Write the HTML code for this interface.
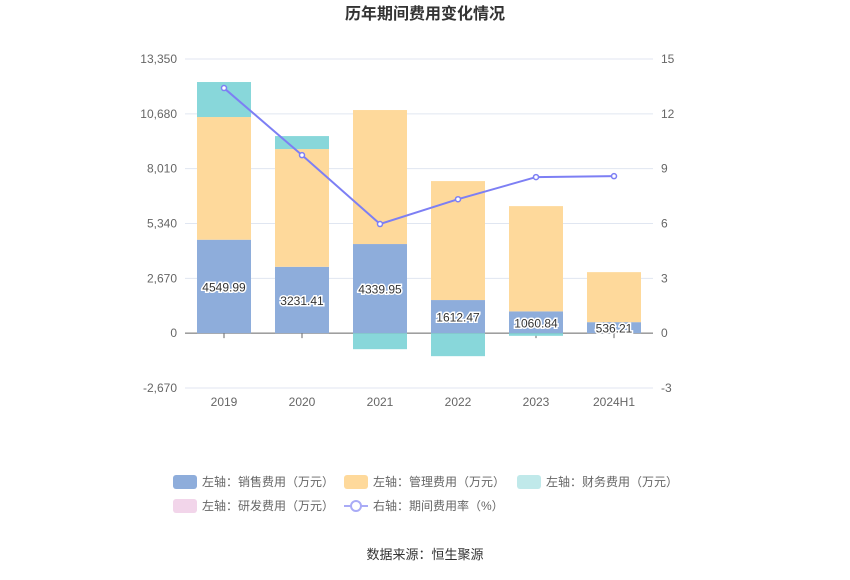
<!DOCTYPE html>
<html><head><meta charset="utf-8"><style>
body{margin:0;background:#fff;font-family:"Liberation Sans","Noto Sans CJK SC",sans-serif}
svg text{font-family:"Liberation Sans","Noto Sans CJK SC",sans-serif}
</style></head><body>
<svg id="c" width="850" height="575">
<text x="425" y="19" text-anchor="middle" font-size="16" font-weight="bold" fill="#333">历年期间费用变化情况</text>
<g id="grid"></g><g id="bars"></g><g id="line"></g><g id="labels"></g>
<g id="legend" font-size="12" fill="#666"></g>
<text x="425" y="559" text-anchor="middle" font-size="13" fill="#333">数据来源：恒生聚源</text>
</svg>
<script>
const categories=["2019","2020","2021","2022","2023","2024H1"];
const sales=[4549.99,3231.41,4339.95,1612.47,1060.84,536.21];
const mgmt=[5974,5733,6525,5793,5126,2436];
const finance=[1705,633,-780,-1120,-130,0];
const rnd=[0,0,0,0,0,0];
const rate=[13.41,9.74,5.97,7.33,8.54,8.59];
const leftTicks=[-2670,0,2670,5340,8010,10680,13350];
const rightTicks=[-3,0,3,6,9,12,15];
const NS="http://www.w3.org/2000/svg";
const yT=59,yB=388,x0=185,x1=653;
const yL=v=>yT+(13350-v)/(13350+2670)*(yB-yT);
const yR=v=>yT+(15-v)/18*(yB-yT);
const bw=(x1-x0)/categories.length;
const xC=i=>x0+bw*(i+0.5);
function mk(t,a,p){const e=document.createElementNS(NS,t);for(const k in a)e.setAttribute(k,a[k]);p.appendChild(e);return e;}
const g=document.getElementById('grid');
leftTicks.forEach((v,i)=>{
 const l=mk('line',{x1:x0,x2:x1,y1:yL(v),y2:yL(v),stroke:v===0?'#666':'#e0e6f1'},g);
 
 
 const t=mk('text',{x:177,y:yL(v)+4,'text-anchor':'end','font-size':12,fill:'#666'},g);t.textContent=v.toLocaleString('en-US');
 
 
 const r=mk('text',{x:661,y:yR(rightTicks[i])+4,'font-size':12,fill:'#666'},g);r.textContent=rightTicks[i];
 
 
});
categories.forEach((c,i)=>{
 mk('line',{x1:xC(i),x2:xC(i),y1:yL(0),y2:yL(0)+5,stroke:'#666'},g);
 const t=mk('text',{x:xC(i),y:406,'text-anchor':'middle','font-size':12,fill:'#666'},g);t.textContent=c;
 
 
});
const b=document.getElementById('bars'),lb=document.getElementById('labels');
const W=54;
categories.forEach((c,i)=>{
 let pos=0,neg=0;
 [[sales,'#8eaddb'],[mgmt,'#fed99b'],[finance,'#88d7da'],[rnd,'#f2d5ea']].forEach(([arr,col],k)=>{
  const v=arr[i];if(!v)return;
  let a,bb;
  if(v>0){a=pos;bb=pos+v;pos=bb;}else{a=neg;bb=neg+v;neg=bb;}
  const yy=Math.min(yL(a),yL(bb)),h=Math.abs(yL(a)-yL(bb));
  const r=mk('rect',{x:xC(i)-W/2,y:yy,width:W,height:h,fill:col},b);
  
  
 });
 const t=mk('text',{x:xC(i),y:(yL(0)+yL(sales[i]))/2+5,'text-anchor':'middle','font-size':12,fill:'#333',stroke:'#fff','stroke-width':3,'paint-order':'stroke'},lb);
 t.textContent=sales[i].toFixed(2);
 
 
});
const L=document.getElementById('line');
mk('polyline',{points:rate.map((v,i)=>xC(i)+','+yR(v)).join(' '),fill:'none',stroke:'#7d7ff4','stroke-width':2},L);
rate.forEach((v,i)=>{
 const p=mk('circle',{cx:xC(i),cy:yR(v),r:2.5,fill:'#fff',stroke:'#7d7ff4','stroke-width':1.5},L);
 
 
});
const lg=document.getElementById('legend');
const items=[[173,482,'#8eaddb','左轴：销售费用（万元）'],[344,482,'#fed99b','左轴：管理费用（万元）'],[517,482,'#c0e9ea','左轴：财务费用（万元）'],[173,506,'#f2d5ea','左轴：研发费用（万元）'],[344,506,null,'右轴：期间费用率（%）']];
items.forEach(([x,y,col,txt])=>{
 const gg=mk('g',{},lg);
 
 
 if(col)mk('rect',{x:x,y:y-7,width:24,height:14,rx:3,fill:col},gg);
 else{mk('line',{x1:x,x2:x+24,y1:y,y2:y,stroke:'#a9abf6','stroke-width':2},gg);mk('circle',{cx:x+12,cy:y,r:5,fill:'#fff',stroke:'#a9abf6','stroke-width':2},gg);}
 const t=mk('text',{x:x+29,y:y+4,fill:'#666'},gg);t.textContent=txt;
});
</script>
</body></html>
